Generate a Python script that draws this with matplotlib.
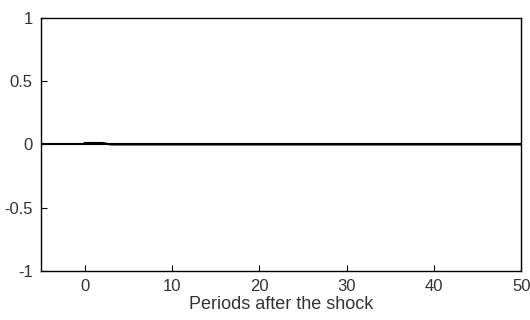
import matplotlib
matplotlib.use("Agg")
import matplotlib.pyplot as plt
import numpy as np

periods = list(range(0, 51))
response = [0.012, 0.012, 0.012] + [0.0] * 48
zero_line_x = [-5, 50]
zero_line_y = [0, 0]
xticks = [0, 10, 20, 30, 40, 50]
yticks = [-1, -0.5, 0, 0.5, 1]
ytick_labels = ["-1", "-0.5", "0", "0.5", "1"]

plt.rcParams['font.family'] = ['Liberation Sans', 'DejaVu Sans']
fig = plt.figure(figsize=(5.3, 3.2), dpi=100)
ax = fig.add_axes([0.0774, 0.153, 0.906, 0.791])
ax.plot(zero_line_x, zero_line_y, color='black', lw=1.5)
ax.plot(periods, response, color='black', lw=1.5)
ax.set_xlim(-5, 50)
ax.set_ylim(-1, 1)
ax.set_xticks(xticks)
ax.set_yticks(yticks)
ax.set_yticklabels(ytick_labels)
ax.tick_params(direction='in', length=4, width=0.8, labelsize=12, colors='black', labelcolor='#333333', pad=6)
ax.tick_params(top=False, right=False)
for s in ax.spines.values():
    s.set_linewidth(1.0)
ax.set_xlabel('Periods after the shock', fontsize=13, color='#333333', labelpad=1)
fig.savefig('out.png', dpi=100)
